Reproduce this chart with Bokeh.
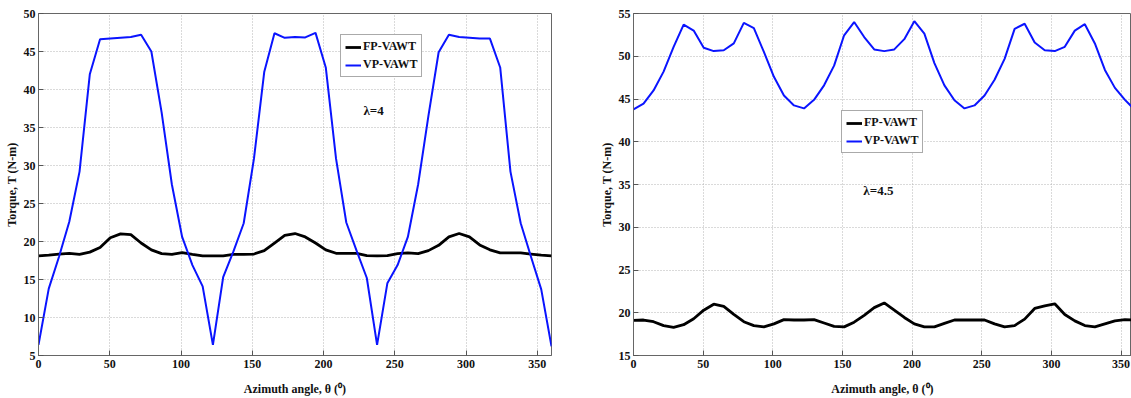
from bokeh.plotting import figure
from bokeh.layouts import row
from bokeh.models import Legend, LegendItem, Label, FixedTicker
from bokeh.embed import file_html
from bokeh.resources import INLINE

# azimuth angle (degrees), sampled every 7.2 degrees
theta = [0, 7.2, 14.4, 21.6, 28.8, 36, 43.2, 50.4, 57.6, 64.8, 72, 79.2, 86.4, 93.6,
         100.8, 108, 115.2, 122.4, 129.6, 136.8, 144, 151.2, 158.4, 165.6, 172.8, 180,
         187.2, 194.4, 201.6, 208.8, 216, 223.2, 230.4, 237.6, 244.8, 252, 259.2, 266.4,
         273.6, 280.8, 288, 295.2, 302.4, 309.6, 316.8, 324, 331.2, 338.4, 345.6, 352.8, 360]

# lambda = 4
fp_l4 = [18.1, 18.2, 18.35, 18.45, 18.3, 18.6, 19.2, 20.5, 21.0, 20.9, 19.8, 18.9, 18.4, 18.3,
         18.55, 18.3, 18.1, 18.1, 18.1, 18.3, 18.3, 18.35, 18.8, 19.8, 20.8, 21.05,
         20.6, 19.8, 18.9, 18.45, 18.45, 18.45, 18.15, 18.1, 18.15, 18.4, 18.5, 18.4,
         18.8, 19.5, 20.6, 21.05, 20.6, 19.55, 18.9, 18.5, 18.5, 18.5, 18.35, 18.2, 18.1]
vp_l4 = [6.4, 13.8, 18.0, 22.6, 29.2, 42.0, 46.6, 46.7, 46.8, 46.9, 47.2, 45.0, 37.0, 27.5,
         20.6, 16.9, 14.1, 6.4, 15.3, 18.7, 22.4, 30.9, 42.3, 47.4, 46.8, 46.9,
         46.85, 47.45, 42.9, 30.9, 22.5, 18.8, 15.2, 6.4, 14.5, 16.9, 20.6, 27.5,
         36.5, 44.9, 47.2, 46.9, 46.8, 46.7, 46.7, 42.9, 29.2, 22.4, 18.0, 13.7, 6.2]

# lambda = 4.5
fp_l45 = [19.1, 19.15, 18.95, 18.5, 18.3, 18.6, 19.3, 20.3, 21.0, 20.75, 19.8, 18.95, 18.5, 18.35,
          18.7, 19.2, 19.15, 19.15, 19.2, 18.8, 18.4, 18.35, 18.9, 19.7, 20.6, 21.15,
          20.3, 19.45, 18.7, 18.35, 18.35, 18.75, 19.15, 19.15, 19.15, 19.15, 18.7, 18.35,
          18.5, 19.25, 20.5, 20.8, 21.05, 19.8, 19.05, 18.5, 18.35, 18.7, 19.05, 19.2, 19.15]
vp_l45 = [43.8, 44.45, 46.0, 48.2, 51.1, 53.7, 53.0, 51.0, 50.6, 50.7, 51.5, 53.9, 53.3, 50.5,
          47.6, 45.4, 44.25, 43.9, 44.9, 46.6, 48.9, 52.45, 54.0, 52.25, 50.8, 50.6,
          50.8, 52.0, 54.1, 52.65, 49.2, 46.6, 44.85, 43.9, 44.25, 45.4, 47.25, 49.7,
          53.2, 53.8, 51.6, 50.7, 50.6, 51.1, 53.0, 53.75, 51.5, 48.4, 46.3, 44.9, 43.7]

x_ticks = [0, 50, 100, 150, 200, 250, 300, 350]
y_ticks_l4 = [5, 10, 15, 20, 25, 30, 35, 40, 45, 50]
y_ticks_l45 = [15, 20, 25, 30, 35, 40, 45, 50, 55]
series_names = ["FP-VAWT", "VP-VAWT"]
lambda_texts = ["\u03bb=4", "\u03bb=4.5"]

FONT = "Liberation Serif"


def style(p, yticks):
    p.xaxis.ticker = FixedTicker(ticks=x_ticks)
    p.yaxis.ticker = FixedTicker(ticks=yticks)
    for ax in (p.xaxis, p.yaxis):
        ax.major_tick_in = 5
        ax.major_tick_out = 0
        ax.minor_tick_line_color = None
        ax.axis_line_color = "#666666"
        ax.major_tick_line_color = "#555555"
        ax.major_label_text_font = FONT
        ax.major_label_text_font_style = "bold"
        ax.major_label_text_font_size = "12px"
        ax.major_label_text_color = "#111111"
        ax.axis_label_text_font = FONT
        ax.axis_label_text_font_style = "bold"
        ax.axis_label_text_font_size = "12px"
        ax.axis_label_text_color = "#111111"
    p.xaxis.major_label_standoff = 4
    p.yaxis.major_label_standoff = 3
    p.xaxis.axis_label = "Azimuth angle, \u03b8 (\u2070)"
    p.yaxis.axis_label = "Torque, T (N-m)"
    p.xaxis.axis_label_standoff = 11
    p.yaxis.axis_label_standoff = 2
    for g in (p.xgrid, p.ygrid):
        g.grid_line_color = "#b5b5b5"
        g.grid_line_dash = "1 2"
        g.grid_line_width = 1
    p.outline_line_color = "#666666"
    p.outline_line_width = 1
    p.background_fill_color = "white"
    p.border_fill_color = "white"


def make(width, xr, yr, yticks, fp, vp, mleft, mright, leg_loc, lam_xy, lam_text):
    p = figure(width=width, height=398, x_range=xr, y_range=yr,
               output_backend="svg", toolbar_location=None,
               min_border_left=mleft, min_border_right=mright,
               min_border_top=13, min_border_bottom=42)
    style(p, yticks)
    r1 = p.line(theta, fp, line_color="black", line_width=2.8)
    r2 = p.line(theta, vp, line_color="#0a14ff", line_width=2)
    leg = Legend(items=[LegendItem(label=series_names[0], renderers=[r1]),
                        LegendItem(label=series_names[1], renderers=[r2])],
                 location=leg_loc)
    leg.label_text_font = FONT
    leg.label_text_font_style = "bold"
    leg.label_text_font_size = "12px"
    leg.label_text_color = "#111111"
    leg.border_line_color = "#555555"
    leg.border_line_width = 1
    leg.background_fill_alpha = 1
    leg.glyph_width = 16
    leg.glyph_height = 14
    leg.label_height = 14
    leg.label_standoff = 2
    leg.padding = 4
    leg.spacing = 3
    leg.margin = 0
    p.add_layout(leg)
    p.add_layout(Label(x=lam_xy[0], y=lam_xy[1], text=lam_text, text_font=FONT,
                       text_font_style="bold", text_font_size="13px",
                       text_baseline="middle", text_color="#111111"))
    return p


p1 = make(575, (0, 360), (5, 50), y_ticks_l4, fp_l4, vp_l4, 38, 24,
          (302, 278), (228, 37.2), lambda_texts[0])
p2 = make(556, (0, 357.5), (15, 55), y_ticks_l45, fp_l45, vp_l45, 58, 0,
          (208, 202), (165, 34.3), lambda_texts[1])

layout = row(p1, p2)
open("out.html", "w").write(file_html(layout, INLINE))
